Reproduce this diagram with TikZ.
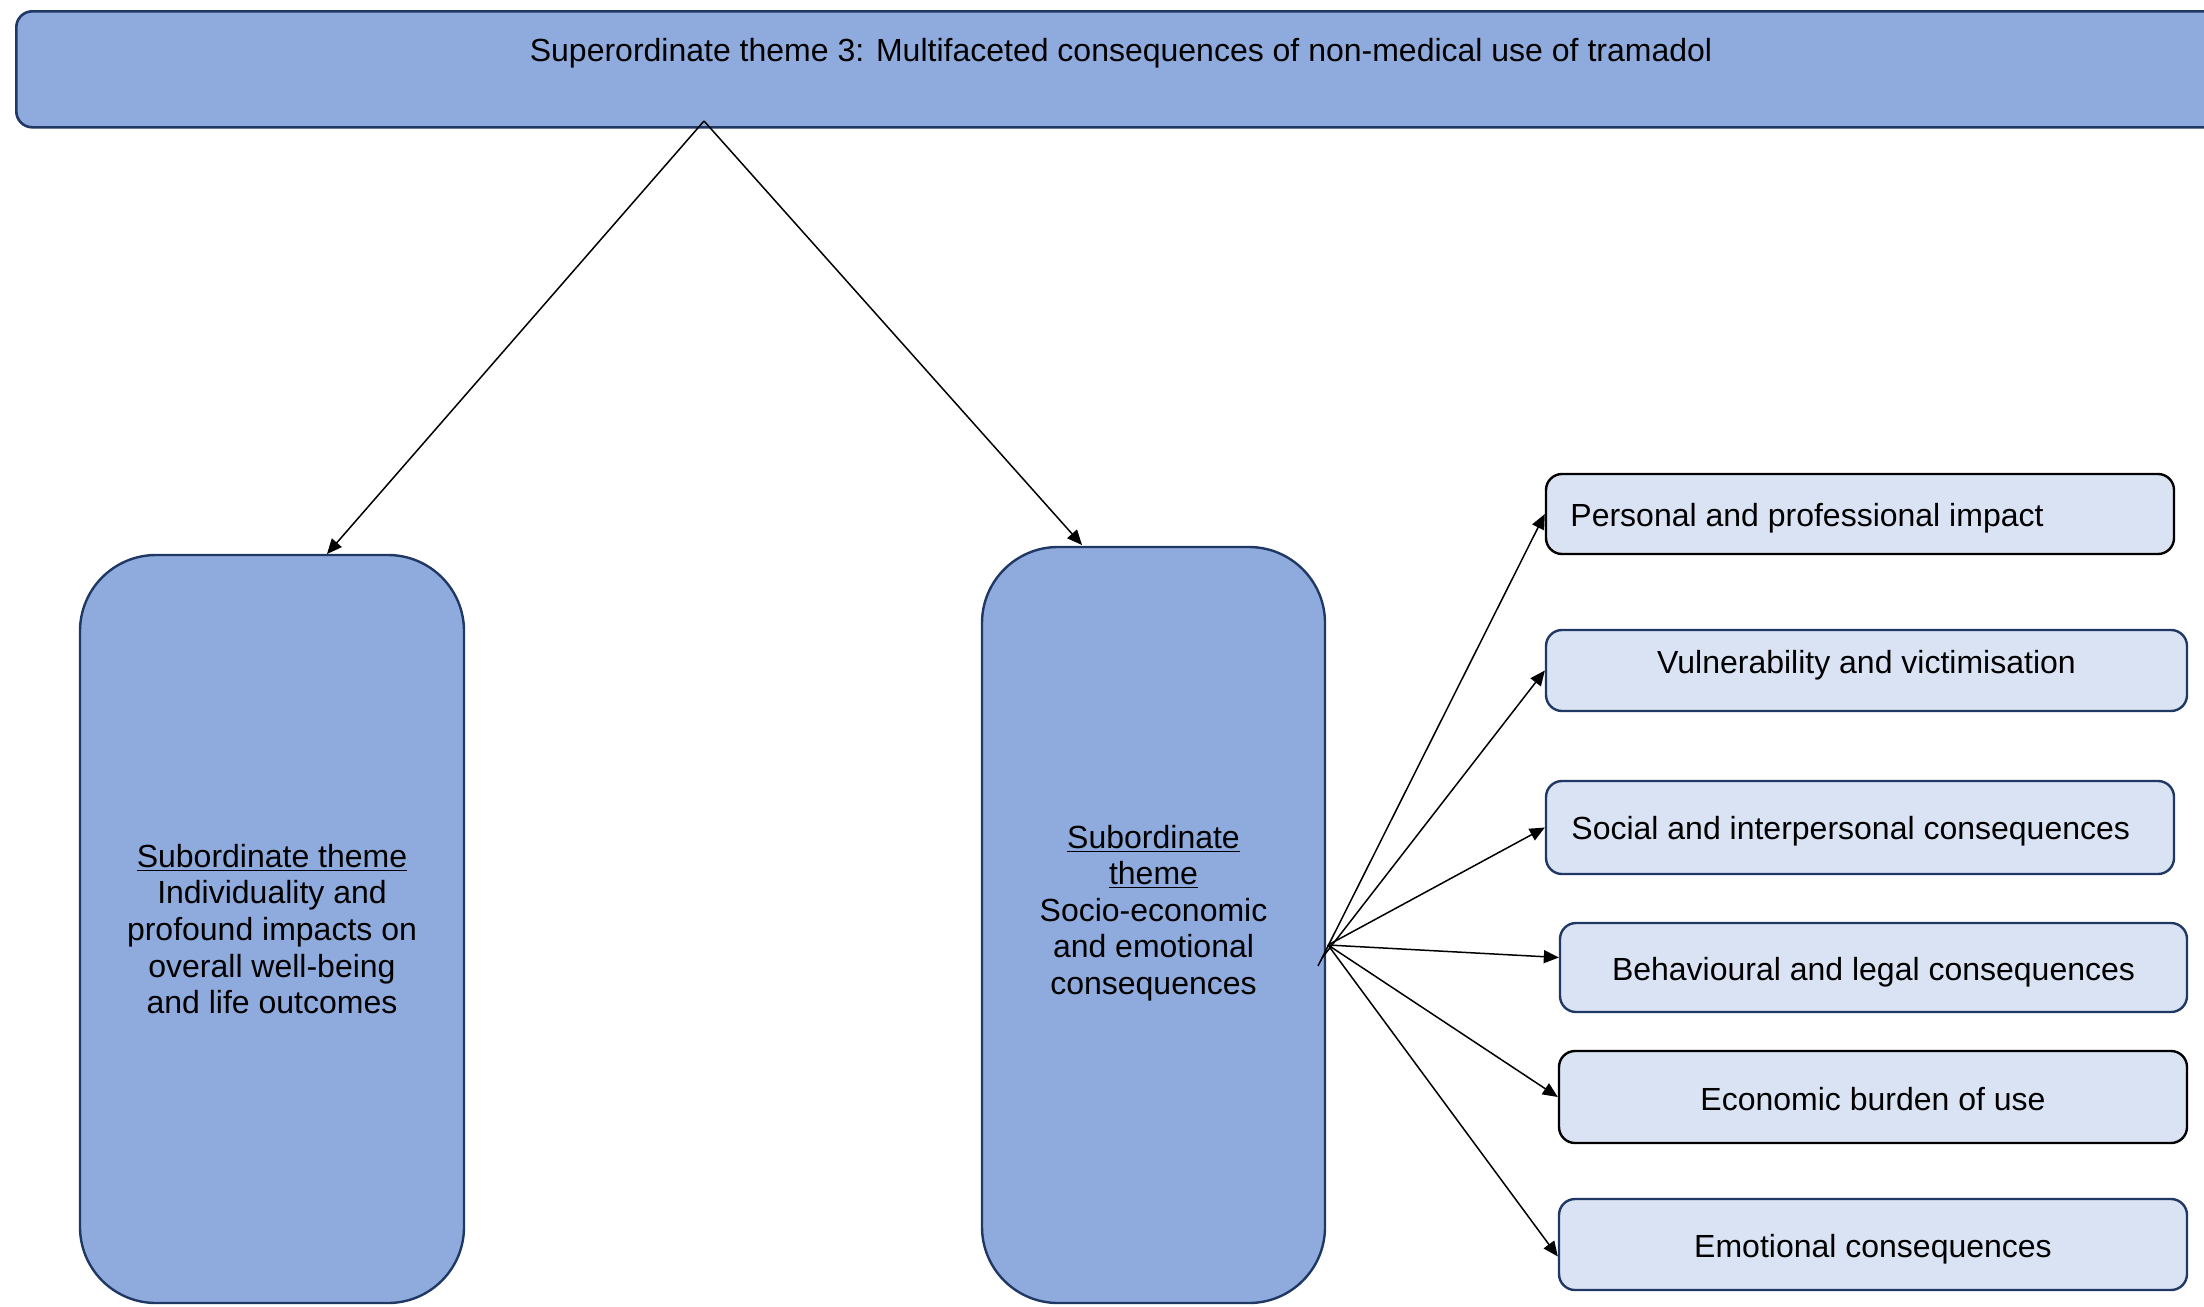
\documentclass[tikz,border=0pt]{standalone}
\usepackage{fontspec}
\setmainfont{Liberation Sans}
\usetikzlibrary{arrows.meta}
\definecolor{themefill}{HTML}{8FAADC}
\definecolor{subfill}{HTML}{DAE3F3}
\definecolor{navy}{HTML}{203864}

\begin{document}
\begin{tikzpicture}[x=0.5pt,y=-0.5pt,
  every node/.style={font=\fontsize{16}{18.3}\selectfont},
  topbox/.style={draw=navy, line width=1.3pt, fill=themefill, rounded corners=8pt, inner sep=0pt},
  bigbox/.style={draw=navy, line width=1.2pt, fill=themefill, rounded corners=38pt, inner sep=0pt, align=center},
  leafbox/.style={draw=navy, line width=1.2pt, fill=subfill, rounded corners=8pt, inner sep=0pt, align=center},
  leafleft/.style={leafbox, align=left, inner xsep=12pt},
  label/.style={inner sep=0pt, align=center},
  conn/.style={draw=black, line width=0.75pt, -{Triangle[length=7.5pt,width=6.5pt]}}
]
\clip (0,0) rectangle (2204,1306);

% superordinate theme banner (runs off the right edge)
\node[topbox, minimum width=1115pt, minimum height=58pt, anchor=north west] (super) at (15,10) {};
\node (supertext) at (1121,53) {Superordinate theme 3: Multifaceted consequences of non-medical use of tramadol};
\coordinate (apex) at (704,121);

% subordinate themes
\node[bigbox, minimum width=192pt, minimum height=374pt] (left) at (272,929)
  {\underline{Subordinate theme}\\Individuality and\\profound impacts on\\overall well-being\\and life outcomes};
\node[bigbox, minimum width=171.5pt, minimum height=378pt] (mid) at (1153.5,925) {};
\node[label] (midtext) at (1153.5,913)
  {\underline{Subordinate}\\\underline{theme}\\Socio-economic\\and emotional\\consequences};

\coordinate (leftin) at (327,554);
\coordinate (midin) at (1082,545);
\draw[conn] (apex) -- (leftin);
\draw[conn] (apex) -- (midin);

% consequence boxes
\node[leafbox, draw=black, minimum width=314pt, minimum height=40pt] (c1) at (1860,514) {};
\node[label, anchor=west] (t1) at (1570,518) {Personal and professional impact};
\node[leafbox, minimum width=320.5pt, minimum height=40.5pt] (c2) at (1866.5,670.5) {};
\node[label] (t2) at (1866.5,665) {Vulnerability and victimisation};
\node[leafbox, minimum width=314pt, minimum height=46.5pt] (c3) at (1860,827.5) {};
\node[label, anchor=west] (t3) at (1571,831) {Social and interpersonal consequences};
\node[leafbox, minimum width=313.5pt, minimum height=44.5pt] (c4) at (1873.5,967.5) {};
\node[label] (t4) at (1873.5,972) {Behavioural and legal consequences};
\node[leafbox, draw=black, minimum width=314pt, minimum height=46pt] (c5) at (1873,1097) {};
\node[label] (t5) at (1873,1099) {Economic burden of use};
\node[leafbox, minimum width=314pt, minimum height=45.5pt] (c6) at (1873,1244.5) {};
\node[label] (t6) at (1873,1249) {Emotional consequences};

% fan of connectors from the right side of the socio-economic theme
\coordinate (fan) at (1328,945);
\coordinate (fanA) at (1318,966);
\coordinate (fanB) at (1322,958);
\draw[conn] (fanA) -- (c1.west);
\draw[conn] (fanB) -- (c2.west);
\draw[conn] (fan) -- (c3.west);
\draw[conn] (fan) -- ([yshift=5pt]c4.west);
\draw[conn] (fan) -- (c5.west);
\draw[conn] (fan) -- ([yshift=-6pt]c6.west);
\end{tikzpicture}
\end{document}
